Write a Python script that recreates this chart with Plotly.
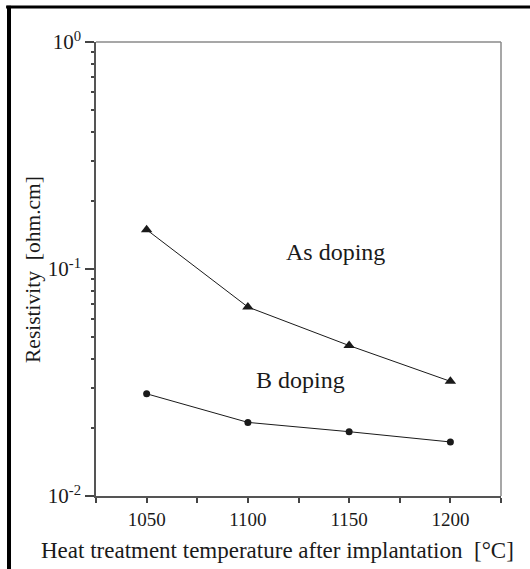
import plotly.graph_objects as go

# Data
temperatures = [1050, 1100, 1150, 1200]
as_doping = [0.149, 0.068, 0.046, 0.032]
b_doping = [0.0282, 0.0211, 0.0192, 0.0173]

x_tickvals = [1050, 1100, 1150, 1200]
x_ticktext = ["1050", "1100", "1150", "1200"]
x_minor = [1025, 1075, 1125, 1175, 1225]
y_tickvals = [0.01, 0.1, 1]
y_ticktext = ["10<sup>-2</sup>", "10<sup>-1</sup>", "10<sup>0</sup>"]
y_minor = [k * 0.01 for k in range(2, 10)] + [k * 0.1 for k in range(2, 10)]

FONT = "Liberation Serif"
INK = "#1a1a1a"

fig = go.Figure()
fig.add_trace(go.Scatter(
    x=temperatures, y=as_doping, mode="lines+markers", name="As doping",
    line=dict(color=INK, width=1),
    marker=dict(symbol="triangle-up", size=10, color=INK),
))
fig.add_trace(go.Scatter(
    x=temperatures, y=b_doping, mode="lines+markers", name="B doping",
    line=dict(color=INK, width=1),
    marker=dict(symbol="circle", size=7, color=INK),
))

fig.update_layout(
    width=530, height=569,
    margin=dict(l=96, r=29, t=42, b=73),
    paper_bgcolor="white", plot_bgcolor="white",
    showlegend=False,
    font=dict(family=FONT, color=INK),
    xaxis=dict(
        range=[1025, 1225], tickmode="array", tickvals=x_tickvals, ticktext=x_ticktext,
        ticks="outside", ticklen=5, tickwidth=1.5, tickcolor="#444",
        minor=dict(tickmode="array", tickvals=x_minor, ticks="outside", ticklen=5,
                   tickwidth=1.5, tickcolor="#444", showgrid=False),
        showline=True, linecolor="#555", linewidth=1.5,
        showgrid=False, zeroline=False,
        tickfont=dict(family=FONT, size=19, color=INK),
    ),
    yaxis=dict(
        type="log", range=[-2, 0], tickmode="array", tickvals=y_tickvals, ticktext=y_ticktext,
        ticks="outside", ticklen=9, tickwidth=1.5, tickcolor="#444",
        minor=dict(tickmode="array", tickvals=y_minor, ticks="outside", ticklen=3,
                   tickwidth=1.5, tickcolor="#444", showgrid=False),
        showline=True, linecolor="#555", linewidth=1.5,
        showgrid=False, zeroline=False,
        tickfont=dict(family=FONT, size=21, color=INK),
    ),
    shapes=[
        dict(type="line", xref="paper", yref="paper", x0=0, x1=1, y0=1, y1=1,
             line=dict(color="#8a8a8a", width=1.5)),
        dict(type="line", xref="paper", yref="paper", x0=1, x1=1, y0=0, y1=1,
             line=dict(color="#8a8a8a", width=1.5)),
        dict(type="line", xref="paper", yref="paper", x0=-0.222, x1=1.08, y0=1.077, y1=1.077,
             line=dict(color="black", width=3)),
        dict(type="line", xref="paper", yref="paper", x0=-0.2148, x1=-0.2148, y0=-0.17, y1=1.08,
             line=dict(color="black", width=4)),
    ],
    annotations=[
        dict(text="As doping", x=1143.5, y=-0.925, xref="x", yref="y",
             showarrow=False, font=dict(family=FONT, size=24, color=INK)),
        dict(text="B doping", x=1126, y=-1.489, xref="x", yref="y",
             showarrow=False, font=dict(family=FONT, size=24, color=INK)),
        dict(text="Heat treatment temperature after implantation&nbsp;&nbsp;[°C]",
             x=0.449, y=-0.119, xref="paper", yref="paper", showarrow=False,
             xanchor="center", yanchor="middle",
             font=dict(family=FONT, size=23, color=INK)),
        dict(text="Resistivity&nbsp;&nbsp;[ohm.cm]", x=-0.1556, y=0.5, xref="paper", yref="paper",
             showarrow=False, textangle=-90, xanchor="center", yanchor="middle",
             font=dict(family=FONT, size=21.5, color=INK)),
    ],
)

fig.write_html("out.html")
